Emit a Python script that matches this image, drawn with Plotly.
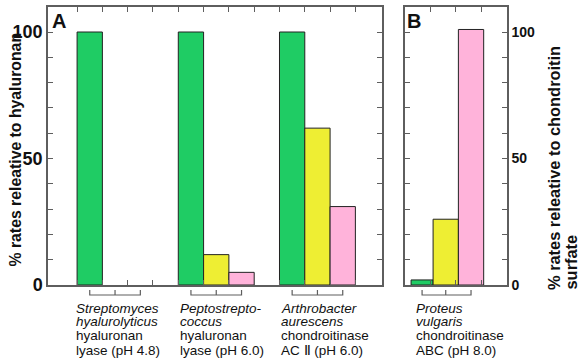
import plotly.graph_objects as go

# ---------------- data ----------------
groups_a = ["Streptomyces hyalurolyticus", "Peptostreptococcus", "Arthrobacter aurescens"]
hyaluronan_a = [100, 100, 100]   # green
chondroitin_a = [0, 12, 62]      # yellow
chondroitin_sulfate_a = [0, 5, 31]  # pink

group_b = ["Proteus vulgaris"]
hyaluronan_b = [2]
chondroitin_b = [26]
chondroitin_sulfate_b = [101]

labels_a = [
    ["<i>Streptomyces</i>", "<i>hyalurolyticus</i>", "hyaluronan", "lyase (pH 4.8)"],
    ["<i>Peptostrepto-</i>", "<i>coccus</i>", "hyaluronan", "lyase (pH 6.0)"],
    ["<i>Arthrobacter</i>", "<i>aurescens</i>", "chondroitinase", "AC \u2161 (pH 6.0)"],
]
labels_b = [["<i>Proteus</i>", "<i>vulgaris</i>", "chondroitinase", "ABC (pH 8.0)"]]

y_ticks = [0, 50, 100]
title_left = "% rates releative to hyaluronan"
title_right = ["% rates releative to chondroitin", "surfate"]

GREEN = "#1fcc64"
YELLOW = "#eeee33"
PINK = "#ffb3da"
FRAME = "#5e5e5e"
FONT = "Liberation Sans, Arial, sans-serif"
W, H = 580, 360

def px(v):
    return v / W

def py(v):
    return (H - v) / H

fig = go.Figure()

# ---------------- panel A geometry (bar units) ----------------
A_OFF = 1.15
A_STEP = 4
a_left = [A_OFF + A_STEP * g for g in range(len(groups_a))]

def nz(v):
    return [x if x != 0 else None for x in v]

for k, (vals, col) in enumerate([(hyaluronan_a, GREEN), (chondroitin_a, YELLOW), (chondroitin_sulfate_a, PINK)]):
    fig.add_trace(go.Bar(
        x=[l + k + 0.5 for l in a_left], y=nz(vals), width=1.0,
        marker=dict(color=col, line=dict(color="#222222", width=1)),
        xaxis="x", yaxis="y", showlegend=False, hoverinfo="skip"))

# ---------------- panel B geometry ----------------
b_edges = [0.24, 1.11, 2.11, 3.11]
for k, (vals, col) in enumerate([(hyaluronan_b, GREEN), (chondroitin_b, YELLOW), (chondroitin_sulfate_b, PINK)]):
    lo, hi = b_edges[k], b_edges[k + 1]
    fig.add_trace(go.Bar(
        x=[(lo + hi) / 2], y=vals, width=hi - lo,
        marker=dict(color=col, line=dict(color="#222222", width=1)),
        xaxis="x2", yaxis="y2", showlegend=False, hoverinfo="skip"))

# ---------------- brackets under groups ----------------
yb_lo, yb_hi = py(295), py(290)
def bracket(xref, centers):
    c0, c1, c2 = centers
    path = (f"M {c0},{yb_hi} L {c0},{yb_lo} L {c2},{yb_lo} L {c2},{yb_hi} "
            f"M {c1},{yb_lo} L {c1},{yb_hi}")
    fig.add_shape(type="path", path=path, xref=xref, yref="paper",
                  line=dict(color=FRAME, width=1.2))

for l in a_left:
    bracket("x", [l + 0.5, l + 1.5, l + 2.5])
bracket("x2", [(b_edges[k] + b_edges[k + 1]) / 2 for k in range(3)])

# ---------------- group labels ----------------
line_y = [308, 321.5, 335.5, 350]
label_off_a = [-0.12, 0.0, 0.0]
for g, lines in enumerate(labels_a):
    for i, t in enumerate(lines):
        fig.add_annotation(x=a_left[g] + label_off_a[g], y=py(line_y[i]),
                           xref="x", yref="paper", text=t, showarrow=False,
                           xanchor="left", yanchor="middle",
                           font=dict(size=13.5, color="#111111", family=FONT))
for i, t in enumerate(labels_b[0]):
    fig.add_annotation(x=b_edges[0] + 0.12, y=py(line_y[i]),
                       xref="x2", yref="paper", text=t, showarrow=False,
                       xanchor="left", yanchor="middle",
                       font=dict(size=13.5, color="#111111", family=FONT))

# ---------------- panel letters ----------------
fig.add_annotation(x=px(50), y=py(20.5), xref="paper", yref="paper",
                   text="<b>A</b>", showarrow=False, xanchor="left", yanchor="middle",
                   font=dict(size=20, color="#111111", family=FONT))
fig.add_annotation(x=px(405), y=py(20.5), xref="paper", yref="paper",
                   text="<b>B</b>", showarrow=False, xanchor="left", yanchor="middle",
                   font=dict(size=20, color="#111111", family=FONT))

# ---------------- axis titles ----------------
fig.add_annotation(x=px(15), y=py(149.5), xref="paper", yref="paper",
                   text=f"<b>{title_left}</b>", textangle=-90,
                   showarrow=False, xanchor="center", yanchor="middle",
                   font=dict(size=15.8, color="#111111", family=FONT))
for t, xc in zip(title_right, [554, 570]):
    fig.add_annotation(x=px(xc), y=py(292), xref="paper", yref="paper",
                       text=f"<b>{t}</b>", textangle=-90,
                       showarrow=False, xanchor="center", yanchor="bottom",
                       font=dict(size=16.4, color="#111111", family=FONT))

# ---------------- axes ----------------
U = 25.3
y_dom = [py(285), py(7)]
y_rng = [0, (285 - 7) / 2.53]
minor = list(range(0, 101, 10))
tt = [str(v) if v in y_ticks else "" for v in minor]

common = dict(showgrid=False, zeroline=False, showline=True, linecolor=FRAME, linewidth=1.5,
              mirror="ticks", ticks="inside", ticklen=5, tickcolor=FRAME, tickwidth=1.2,
              automargin=False)

fig.update_layout(
    template="none",
    width=W, height=H, margin=dict(l=0, r=0, t=0, b=0, pad=0), autosize=False,
    paper_bgcolor="white", plot_bgcolor="white", barmode="overlay",
    font=dict(family=FONT, color="#111111"),
    xaxis=dict(domain=[px(48), px(382)], range=[0, 334 / U], anchor="y",
               tickvals=[l + k for l in a_left for k in range(4)], showticklabels=False, **common),
    xaxis2=dict(domain=[px(405), px(507)], range=[0, 102 / U], anchor="y2",
                tickvals=[25 / U, 50 / U, 76 / U], showticklabels=False, **common),
    yaxis=dict(domain=y_dom, range=y_rng, anchor="x", tickvals=minor, ticktext=tt,
               tickfont=dict(size=18, family=FONT, color="#111111", weight="bold"), **common),
    yaxis2=dict(domain=y_dom, range=y_rng, anchor="x2", side="right", tickvals=minor, ticktext=tt,
                tickfont=dict(size=14, family=FONT, color="#111111", weight="bold"), **common),
)

fig.write_html("out.html", config={"displayModeBar": False},
               post_script="document.body.style.margin='0px';document.body.style.overflow='hidden';")
